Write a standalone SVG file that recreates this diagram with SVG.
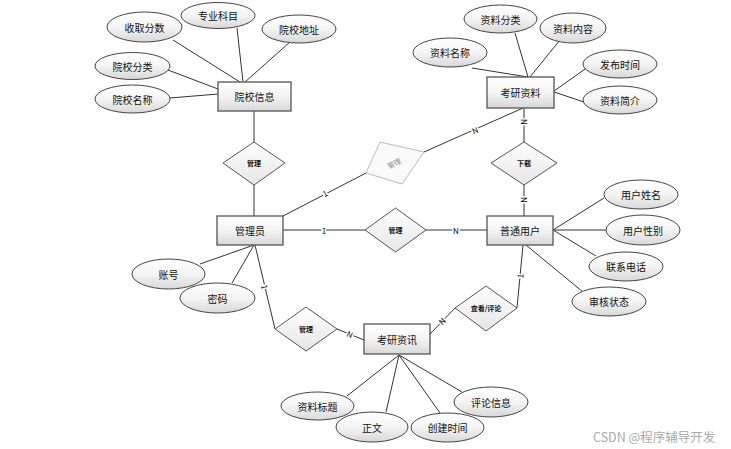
<svg xmlns="http://www.w3.org/2000/svg" width="731" height="449" viewBox="0 0 731 449">
<defs>
<linearGradient id="g" x1="0" y1="0" x2="0" y2="1">
<stop offset="0" stop-color="#ffffff"/><stop offset="0.5" stop-color="#f4f4f4"/><stop offset="1" stop-color="#d8d8d8"/>
</linearGradient>
<linearGradient id="gd" x1="0" y1="0" x2="0" y2="1">
<stop offset="0" stop-color="#ffffff"/><stop offset="1" stop-color="#e6e6e6"/>
</linearGradient>
<style>
.ent rect{fill:url(#g);stroke:#555;stroke-width:1.3}
.att ellipse{fill:url(#g);stroke:#444;stroke-width:1}
.rel polygon{fill:url(#gd);stroke:#555;stroke-width:1}
.rel.ghost polygon{stroke:#bbb;fill:#fafafa}
text{font-family:"Noto Sans CJK SC","Liberation Sans",sans-serif;fill:#111;text-anchor:middle;dominant-baseline:central}
.et{font-size:10px}
.at{font-size:10px}
.rt{font-size:7px;font-weight:bold}
.ghost text{fill:#888;font-weight:normal}
.lbl{font-size:8px;fill:#000;paint-order:stroke;stroke:#fff;stroke-width:3px}
#conn line{stroke:#333;stroke-width:1}
.wm{font-size:12.5px;fill:#aaa;text-anchor:start}
</style>
</defs>
<rect width="731" height="449" fill="#fff"/>
<g id="conn">
<line x1="240" y1="82" x2="173" y2="40"/>
<line x1="243" y1="82" x2="237" y2="28"/>
<line x1="245" y1="82" x2="290" y2="42"/>
<line x1="218" y1="89" x2="168" y2="70"/>
<line x1="218" y1="94" x2="170" y2="98"/>
<line x1="254" y1="111" x2="254" y2="142"/>
<line x1="254" y1="185" x2="254" y2="216"/>
<line x1="528" y1="77" x2="515" y2="33"/>
<line x1="530" y1="77" x2="560" y2="40"/>
<line x1="528" y1="77" x2="472" y2="68"/>
<line x1="554" y1="91" x2="588" y2="67"/>
<line x1="554" y1="92" x2="584" y2="102"/>
<line x1="524" y1="108" x2="524" y2="142"/>
<line x1="523" y1="108" x2="424" y2="152"/>
<line x1="283" y1="216" x2="366" y2="173"/>
<line x1="283" y1="230" x2="365" y2="230"/>
<line x1="426" y1="230" x2="487" y2="230"/>
<line x1="524" y1="185" x2="524" y2="216"/>
<line x1="553" y1="230" x2="604" y2="198"/>
<line x1="553" y1="230" x2="606" y2="230"/>
<line x1="553" y1="230" x2="596" y2="256"/>
<line x1="526" y1="245" x2="583" y2="292"/>
<line x1="523" y1="245" x2="517" y2="308"/>
<line x1="455" y1="308" x2="430" y2="334"/>
<line x1="254" y1="245" x2="200" y2="264"/>
<line x1="254" y1="245" x2="232" y2="283"/>
<line x1="255" y1="245" x2="275" y2="329"/>
<line x1="337" y1="329" x2="364" y2="340"/>
<line x1="399" y1="355" x2="347" y2="396"/>
<line x1="399" y1="355" x2="386" y2="412"/>
<line x1="399" y1="355" x2="440" y2="413"/>
<line x1="399" y1="355" x2="462" y2="392"/>
<text class="lbl" x="325" y="193" transform="rotate(-27 325 193)">1</text>
<text class="lbl" x="475" y="130" transform="rotate(-24 475 130)">N</text>
<text class="lbl" x="524" y="122" transform="rotate(90 524 122)">N</text>
<text class="lbl" x="324" y="230">1</text>
<text class="lbl" x="456" y="230">N</text>
<text class="lbl" x="524" y="200" transform="rotate(90 524 200)">N</text>
<text class="lbl" x="520" y="276" transform="rotate(-84 520 276)">1</text>
<text class="lbl" x="442" y="321" transform="rotate(-47 442 321)">N</text>
<text class="lbl" x="265" y="287" transform="rotate(77 265 287)">1</text>
<text class="lbl" x="350" y="334" transform="rotate(22 350 334)">N</text>
</g>
<g id="e_yxxx" class="ent"><rect x="218" y="82" width="73" height="29"/><text class="et" x="254.5" y="96.5">院校信息</text></g>
<g id="e_kyzl" class="ent"><rect x="487" y="77" width="67" height="31"/><text class="et" x="520.5" y="92.5">考研资料</text></g>
<g id="e_gly" class="ent"><rect x="217" y="216" width="66" height="29"/><text class="et" x="250" y="230.5">管理员</text></g>
<g id="e_ptyh" class="ent"><rect x="487" y="216" width="66" height="29"/><text class="et" x="520" y="230.5">普通用户</text></g>
<g id="e_kyzx" class="ent"><rect x="364" y="324" width="66" height="30"/><text class="et" x="397" y="339">考研资讯</text></g>
<g id="r_gl1" class="rel"><polygon points="223,163 254,142 285,163 254,185"/><text class="rt" x="254" y="163">管理</text></g>
<g id="r_gl2" class="rel ghost"><polygon points="366,173 380,142 424,152 402,184"/><text class="rt" x="394" y="163" transform="rotate(-25 394 163)">管理</text></g>
<g id="r_gl3" class="rel"><polygon points="365,230 395.5,208 426,230 395.5,252"/><text class="rt" x="395.5" y="230">管理</text></g>
<g id="r_xz" class="rel"><polygon points="491,163 524,142 557,163 524,185"/><text class="rt" x="524" y="163">下载</text></g>
<g id="r_gl4" class="rel"><polygon points="275,329 306,307 337,329 306,351"/><text class="rt" x="306" y="329">管理</text></g>
<g id="r_ckpl" class="rel"><polygon points="455,308 486,286 517,308 486,331"/><text class="rt" x="486" y="308">查看/评论</text></g>
<g id="a_sqfs" class="att"><ellipse cx="144.5" cy="27" rx="37.5" ry="15"/><text class="at" x="144.5" y="27">收取分数</text></g>
<g id="a_zykm" class="att"><ellipse cx="218" cy="15.5" rx="37" ry="13"/><text class="at" x="218" y="15.5">专业科目</text></g>
<g id="a_yxdz" class="att"><ellipse cx="299" cy="29" rx="37" ry="14"/><text class="at" x="299" y="29">院校地址</text></g>
<g id="a_yxfl" class="att"><ellipse cx="132.5" cy="66" rx="37.5" ry="13.5"/><text class="at" x="132.5" y="66">院校分类</text></g>
<g id="a_yxmc" class="att"><ellipse cx="132.5" cy="99" rx="37.5" ry="14"/><text class="at" x="132.5" y="99">院校名称</text></g>
<g id="a_zlfl" class="att"><ellipse cx="500.5" cy="19" rx="36.5" ry="14"/><text class="at" x="500.5" y="19">资料分类</text></g>
<g id="a_zlnr" class="att"><ellipse cx="573" cy="28" rx="33" ry="15"/><text class="at" x="573" y="28">资料内容</text></g>
<g id="a_zlmc" class="att"><ellipse cx="450" cy="52.5" rx="37" ry="14.5"/><text class="at" x="450" y="52.5">资料名称</text></g>
<g id="a_fbsj" class="att"><ellipse cx="620" cy="64" rx="37" ry="14"/><text class="at" x="620" y="64">发布时间</text></g>
<g id="a_zljj" class="att"><ellipse cx="620" cy="100" rx="37" ry="14"/><text class="at" x="620" y="100">资料简介</text></g>
<g id="a_yhxm" class="att"><ellipse cx="641" cy="194.5" rx="37" ry="14.5"/><text class="at" x="641" y="194.5">用户姓名</text></g>
<g id="a_yhxb" class="att"><ellipse cx="643" cy="230" rx="37" ry="15"/><text class="at" x="643" y="230">用户性别</text></g>
<g id="a_lxdh" class="att"><ellipse cx="626" cy="266.5" rx="37" ry="14.5"/><text class="at" x="626" y="266.5">联系电话</text></g>
<g id="a_shzt" class="att"><ellipse cx="609" cy="301.5" rx="37" ry="14.5"/><text class="at" x="609" y="301.5">审核状态</text></g>
<g id="a_zh" class="att"><ellipse cx="168.5" cy="274" rx="36.5" ry="15"/><text class="at" x="168.5" y="274">账号</text></g>
<g id="a_mm" class="att"><ellipse cx="217.5" cy="298" rx="37.5" ry="15"/><text class="at" x="217.5" y="298">密码</text></g>
<g id="a_zlbt" class="att"><ellipse cx="317.5" cy="406" rx="36.5" ry="14"/><text class="at" x="317.5" y="406">资料标题</text></g>
<g id="a_zw" class="att"><ellipse cx="372" cy="427" rx="36" ry="15"/><text class="at" x="372" y="427">正文</text></g>
<g id="a_cjsj" class="att"><ellipse cx="447.5" cy="427.5" rx="36.5" ry="14.5"/><text class="at" x="447.5" y="427.5">创建时间</text></g>
<g id="a_plxx" class="att"><ellipse cx="491" cy="402" rx="37" ry="15"/><text class="at" x="491" y="402">评论信息</text></g>
<text class="wm" x="593" y="436">CSDN @程序辅导开发</text>
</svg>
